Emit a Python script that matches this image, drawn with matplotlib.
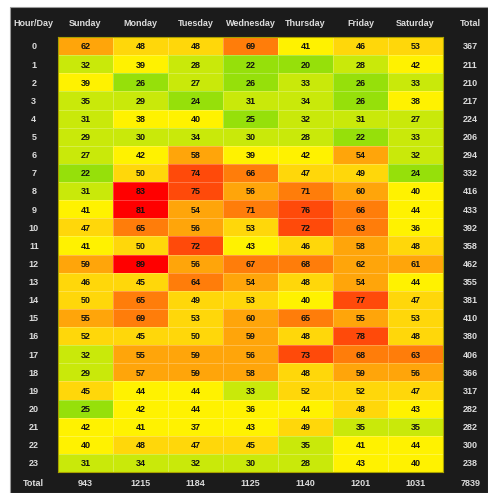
import numpy as np
import matplotlib
matplotlib.use("Agg")
import matplotlib.pyplot as plt
from matplotlib.colors import ListedColormap, BoundaryNorm
from matplotlib.patches import Rectangle

plt.rcParams['font.family'] = ['Liberation Sans', 'DejaVu Sans']

days = ["Sunday", "Monday", "Tuesday", "Wednesday", "Thursday", "Friday", "Saturday"]
hours = [str(h) for h in range(24)]

sunday    = [62, 32, 39, 35, 31, 29, 27, 22, 31, 41, 47, 41, 59, 46, 50, 55, 52, 32, 29, 45, 25, 42, 40, 31]
monday    = [48, 39, 26, 29, 38, 30, 42, 50, 83, 81, 65, 50, 89, 45, 65, 69, 45, 55, 57, 44, 42, 41, 48, 34]
tuesday   = [48, 28, 27, 24, 40, 34, 58, 74, 75, 54, 56, 72, 56, 64, 49, 53, 50, 59, 59, 44, 44, 37, 47, 32]
wednesday = [69, 22, 26, 31, 25, 30, 39, 66, 56, 71, 53, 43, 67, 54, 53, 60, 59, 56, 58, 33, 36, 43, 45, 30]
thursday  = [41, 20, 33, 34, 32, 28, 42, 47, 71, 76, 72, 46, 68, 48, 40, 65, 48, 73, 48, 52, 44, 49, 35, 28]
friday    = [46, 28, 26, 26, 31, 22, 54, 49, 60, 66, 63, 58, 62, 54, 77, 55, 78, 68, 59, 52, 48, 35, 41, 43]
saturday  = [53, 42, 33, 38, 27, 33, 32, 24, 40, 44, 36, 48, 61, 44, 47, 53, 48, 63, 56, 47, 43, 35, 44, 40]

bin_edges = [17.5, 26.5, 35.5, 44.5, 53.5, 62.5, 71.5, 80.5, 90]
bin_colors = ["#96e00a", "#c9e90a", "#fff200", "#ffd70a", "#ffa50a", "#ff7d0a", "#ff4a0a", "#ff0000"]

data = np.array([sunday, monday, tuesday, wednesday, thursday, friday, saturday]).T
row_totals = data.sum(axis=1)
col_totals = data.sum(axis=0)
grand_total = data.sum()

W, H = 488, 493
fig = plt.figure(figsize=(W / 100, H / 100), dpi=100)
fig.patch.set_facecolor("white")

# dark panel
panel = Rectangle((10 / W, 0), 1 - 10 / W, 1 - 7 / H, transform=fig.transFigure,
                  facecolor="#1b1b1b", edgecolor="#9a9a9a", linewidth=0.8, zorder=-5)
fig.patches.append(panel)

left, right, top, bottom = 58 / W, 443 / W, 1 - 37 / H, 1 - 472 / H
ax = fig.add_axes([left, bottom, right - left, top - bottom])
ax.set_zorder(2)
ax.set_facecolor("#1b1b1b")

cmap = ListedColormap(bin_colors)
norm = BoundaryNorm(bin_edges, cmap.N)
ax.pcolormesh(np.arange(-0.5, 7.5, 1), np.arange(-0.5, 24.5, 1), data, cmap=cmap, norm=norm,
              edgecolors=(1, 1, 1, 0.25), linewidth=0.5)
ax.set_xlim(-0.5, 6.5)
ax.set_ylim(23.5, -0.5)
ax.set_xticks([])
ax.set_yticks([])
for s in ax.spines.values():
    s.set_color("#a8a000")
    s.set_linewidth(0.8)

for i in range(24):
    for j in range(7):
        ax.text(j, i + 0.05, str(data[i, j]), ha="center", va="center", fontsize=6.5,
                fontweight="bold", color="#111111")

hdr_color = "#dcdcdc"
hdr_y = -1.22
ax.text(-0.94, hdr_y, "Hour/Day", ha="center", va="center", fontsize=6.5, fontweight="bold",
        color=hdr_color, clip_on=False)
for j, d in enumerate(days):
    ax.text(j, hdr_y, d, ha="center", va="center", fontsize=6.5, fontweight="bold",
            color=hdr_color, clip_on=False)
ax.text(7.0, hdr_y, "Total", ha="center", va="center", fontsize=6.5, fontweight="bold",
        color=hdr_color, clip_on=False)

for i, h in enumerate(hours):
    ax.text(-0.94, i + 0.05, h, ha="center", va="center", fontsize=6.5, fontweight="bold",
            color=hdr_color, clip_on=False)
    ax.text(7.0, i + 0.05, str(row_totals[i]), ha="center", va="center", fontsize=6.5,
            fontweight="bold", color=hdr_color, clip_on=False)

tot_y = 24.16
ax.text(-0.94, tot_y, "Total", ha="center", va="center", fontsize=6.5, fontweight="bold",
        color=hdr_color, clip_on=False)
for j in range(7):
    ax.text(j, tot_y, str(col_totals[j]), ha="center", va="center", fontsize=6.5,
            fontweight="bold", color=hdr_color, clip_on=False)
ax.text(7.0, tot_y, str(grand_total), ha="center", va="center", fontsize=6.5,
        fontweight="bold", color=hdr_color, clip_on=False)

fig.savefig("out.png", dpi=100, facecolor=fig.get_facecolor())
